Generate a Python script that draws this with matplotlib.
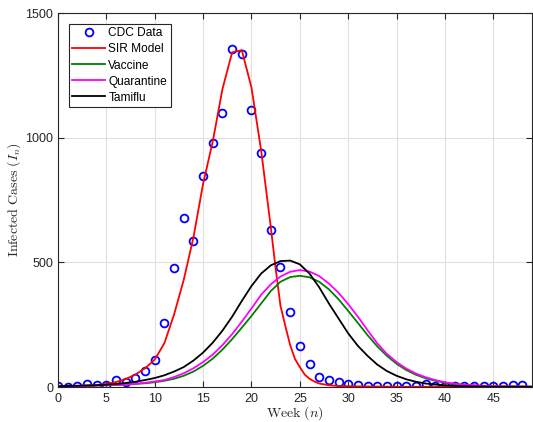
import numpy as np
import matplotlib
matplotlib.use("Agg")
from matplotlib import pyplot as plt

plt.rcParams['font.family'] = ['Liberation Sans', 'DejaVu Sans']
plt.rcParams['mathtext.fontset'] = 'cm'

# weekly CDC counts (weeks 0..48)
cdc_weeks = np.arange(0, 49)
cdc_cases = [5, 2, 6, 13, 8, 9, 27, 19, 37, 63, 109, 257, 476, 679, 584, 847, 977, 1099,
             1355, 1337, 1112, 937, 629, 480, 299, 165, 94, 40, 30, 20, 11, 8, 6, 5, 5, 4,
             6, 6, 12, 5, 5, 6, 4, 5, 4, 6, 5, 8, 7]

# SIR model fit
sir_weeks = [0, 1, 2, 3, 4, 5, 6, 7, 8, 9, 10, 11, 12, 13, 14, 15, 16, 17, 18, 19, 20, 21,
             22, 22.5, 23, 23.5, 24, 24.5, 25, 25.5, 26, 26.5, 27, 28, 29, 30, 32, 35, 40, 45, 49]
sir_cases = [2, 3, 4, 6, 8, 12, 20, 32, 50, 75, 110, 176, 291, 430, 600, 815, 985, 1195,
             1342, 1351, 1201, 949, 640, 475, 325, 245, 168, 112, 80, 50, 33, 22, 14, 7, 4, 3,
             2, 1, 1, 1, 1]

# intervention scenarios (weeks 0..49)
model_weeks = np.arange(0, 50)
vaccine = [3, 3, 4, 5, 6, 7, 8, 10, 12, 15, 19, 25, 33, 45, 62, 85, 114, 150, 192, 238,
           285, 335, 385, 422, 441, 446, 440, 422, 392, 352, 305, 257, 208, 163, 125, 93,
           68, 49, 35, 25, 17, 12, 8, 6, 4, 3, 2, 2, 1, 1]
quarantine = [3, 3, 4, 5, 6, 7, 8, 10, 13, 17, 22, 28, 40, 55, 75, 100, 130, 168, 212, 262,
              315, 370, 412, 443, 462, 469, 463, 445, 415, 378, 332, 282, 228, 175, 133, 100,
              74, 54, 39, 28, 19, 13, 9, 7, 5, 4, 3, 2, 2, 1]
tamiflu = [3, 4, 5, 6, 7, 9, 12, 16, 21, 28, 36, 47, 62, 80, 106, 138, 178, 226, 282, 345,
           405, 455, 488, 505, 507, 492, 455, 400, 335, 275, 215, 165, 125, 90, 64, 45,
           31, 21, 14, 10, 7, 5, 3, 2, 2, 1, 1, 1, 1, 1]

fig = plt.figure(figsize=(5.33, 4.22), dpi=100)
ax = fig.add_axes([58/533, 35/422, 474/533, 374/422])

ax.plot(cdc_weeks, cdc_cases, 'o', color='#0000ff', mfc='none', ms=5.6, mew=1.3, label='CDC Data')
ax.plot(sir_weeks, sir_cases, color='#ff0000', lw=1.3, label='SIR Model')
ax.plot(model_weeks, vaccine, color='#008000', lw=1.3, label='Vaccine')
ax.plot(model_weeks, quarantine, color='#ff00ff', lw=1.3, label='Quarantine')
ax.plot(model_weeks, tamiflu, color='black', lw=1.3, label='Tamiflu')

ax.set_xlim(0, 49)
ax.set_ylim(0, 1500)
ax.set_xticks(np.arange(0, 50, 5))
ax.set_yticks([0, 500, 1000, 1500])
ax.grid(True, color='#e0e0e0', lw=0.8)
ax.set_axisbelow(True)
ax.tick_params(direction='in', top=True, right=True, length=4, width=0.8,
               labelsize=9, colors='#262626', labelcolor='#262626')
ax.tick_params(axis='x', pad=4)
for s in ax.spines.values():
    s.set_color('#262626')
    s.set_linewidth(0.8)

ax.set_xlabel(r'$\mathrm{Week}\ (n)$', fontsize=10, color='#262626', labelpad=0)
ax.set_ylabel(r'$\mathrm{Infected\ Cases}\ (I_n)$', fontsize=10, color='#262626', labelpad=1.5)

leg = ax.legend(loc='upper left', bbox_to_anchor=(0.023, 0.971), borderaxespad=0,
                fontsize=8.6, frameon=True, fancybox=False, framealpha=1,
                handlelength=2.7, handletextpad=0.3, labelspacing=0.34,
                borderpad=0.3)
leg.get_frame().set_edgecolor('#262626')
leg.get_frame().set_linewidth(0.8)

fig.savefig('out.png', dpi=100)
